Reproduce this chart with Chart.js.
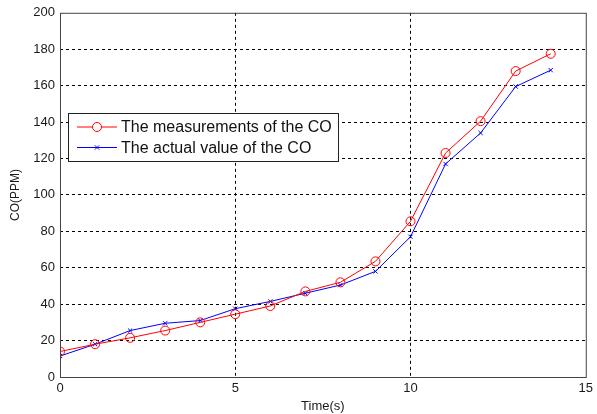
<!DOCTYPE html>
<html>
<head>
<meta charset="utf-8">
<script src="https://cdn.jsdelivr.net/npm/chart.js@4/dist/chart.umd.min.js"></script>
<style>
  html, body { margin: 0; padding: 0; background: #fff; }
  #wrap { width: 597px; height: 414px; }
</style>
</head>
<body>
<div id="wrap"><canvas id="chart" width="597" height="414"></canvas></div>
<script>
// time in seconds
const times = [0, 1, 2, 3, 4, 5, 6, 7, 8, 9, 10, 11, 12, 13, 14];
const measured = [14, 18, 21.5, 25.5, 30, 34.5, 39, 47, 52, 63.5, 85.5, 123, 140.5, 168, 177.5];
const actual = [11.5, 18, 25.5, 29.5, 31, 37.5, 41.5, 46, 50.5, 58, 77, 117, 134, 159.5, 168.5];
const seriesNames = ["The measurements of the CO", "The actual value of the CO"];
const xTicks = [0, 5, 10, 15];
const yTicks = [0, 20, 40, 60, 80, 100, 120, 140, 160, 180, 200];

const toPts = (ys) => times.map((t, i) => ({ x: t, y: ys[i] }));
const FONT = "Arial, 'Liberation Sans', sans-serif";

// box around plot + legend drawn inside the plot, matlab style
const boxAndLegend = {
    id: 'boxAndLegend',
    afterDraw(chart) {
        const ctx = chart.ctx;
        const a = chart.chartArea;
        ctx.save();
        ctx.strokeStyle = '#444';
        ctx.lineWidth = 1;
        ctx.setLineDash([]);
        ctx.strokeRect(a.left + 0.5, a.top + 0.5, a.right - a.left, a.bottom - a.top);

        // legend box
        const lx = 68, ly = 113, lw = 270, lh = 48;
        ctx.fillStyle = '#fff';
        ctx.fillRect(lx, ly, lw, lh);
        ctx.strokeStyle = '#222';
        ctx.strokeRect(lx + 0.5, ly + 0.5, lw, lh);
        chart.data.datasets.forEach((ds, i) => {
            const yy = ly + 14 + i * 20.5;
            ctx.strokeStyle = ds.borderColor;
            ctx.lineWidth = 1;
            ctx.beginPath();
            ctx.moveTo(77, yy);
            ctx.lineTo(117, yy);
            ctx.stroke();
            Chart.helpers.drawPoint(ctx, {
                pointStyle: ds.pointStyle,
                radius: ds.pointRadius,
                borderWidth: 1
            }, 97, yy);
            ctx.fillStyle = '#111';
            ctx.font = '16px ' + FONT;
            ctx.textBaseline = 'middle';
            ctx.fillText(ds.label, 121, yy + 1);
        });
        ctx.restore();
    }
};

new Chart(document.getElementById('chart'), {
    type: 'scatter',
    data: {
        datasets: [
            {
                label: seriesNames[0],
                data: toPts(measured),
                showLine: true,
                borderColor: '#ff0000',
                backgroundColor: 'rgba(0,0,0,0)',
                borderWidth: 1,
                pointStyle: 'circle',
                pointRadius: 4.5,
                pointBorderWidth: 1
            },
            {
                label: seriesNames[1],
                data: toPts(actual),
                showLine: true,
                borderColor: '#0000ff',
                backgroundColor: 'rgba(0,0,0,0)',
                borderWidth: 1,
                pointStyle: 'crossRot',
                pointRadius: 3,
                pointBorderWidth: 1
            }
        ]
    },
    options: {
        responsive: false,
        animation: false,
        layout: { padding: { left: 0, right: 11, top: 12, bottom: 0 } },
        plugins: {
            legend: { display: false },
            tooltip: { enabled: false }
        },
        scales: {
            x: {
                type: 'linear',
                min: 0,
                max: 15,
                afterBuildTicks: (s) => { s.ticks = xTicks.map(v => ({ value: v })); },
                afterFit: (s) => { s.height = 37; },
                grid: {
                    color: (c) => (c.tick && (c.tick.value === 0 || c.tick.value === 15)) ? 'rgba(0,0,0,0)' : '#000',
                    lineWidth: 1,
                    drawTicks: false
                },
                border: { display: false, dash: [3, 3] },
                ticks: { color: '#1a1a1a', font: { family: FONT, size: 13 }, padding: 4, maxRotation: 0 },
                title: {
                    display: true,
                    text: 'Time(s)',
                    color: '#1a1a1a',
                    font: { family: FONT, size: 13 },
                    padding: { top: 0, bottom: 0 }
                }
            },
            y: {
                min: 0,
                max: 200,
                afterBuildTicks: (s) => { s.ticks = yTicks.map(v => ({ value: v })); },
                afterFit: (s) => { s.width = 60; },
                grid: {
                    color: (c) => (c.tick && (c.tick.value === 0 || c.tick.value === 200)) ? 'rgba(0,0,0,0)' : '#000',
                    lineWidth: 1,
                    drawTicks: false
                },
                border: { display: false, dash: [3, 3] },
                ticks: { color: '#1a1a1a', font: { family: FONT, size: 13 }, padding: 5 },
                title: {
                    display: true,
                    text: 'CO(PPM)',
                    color: '#1a1a1a',
                    font: { family: FONT, size: 12 },
                    padding: { top: 8, bottom: 0 }
                }
            }
        }
    },
    plugins: [boxAndLegend]
});
</script>
</body>
</html>
